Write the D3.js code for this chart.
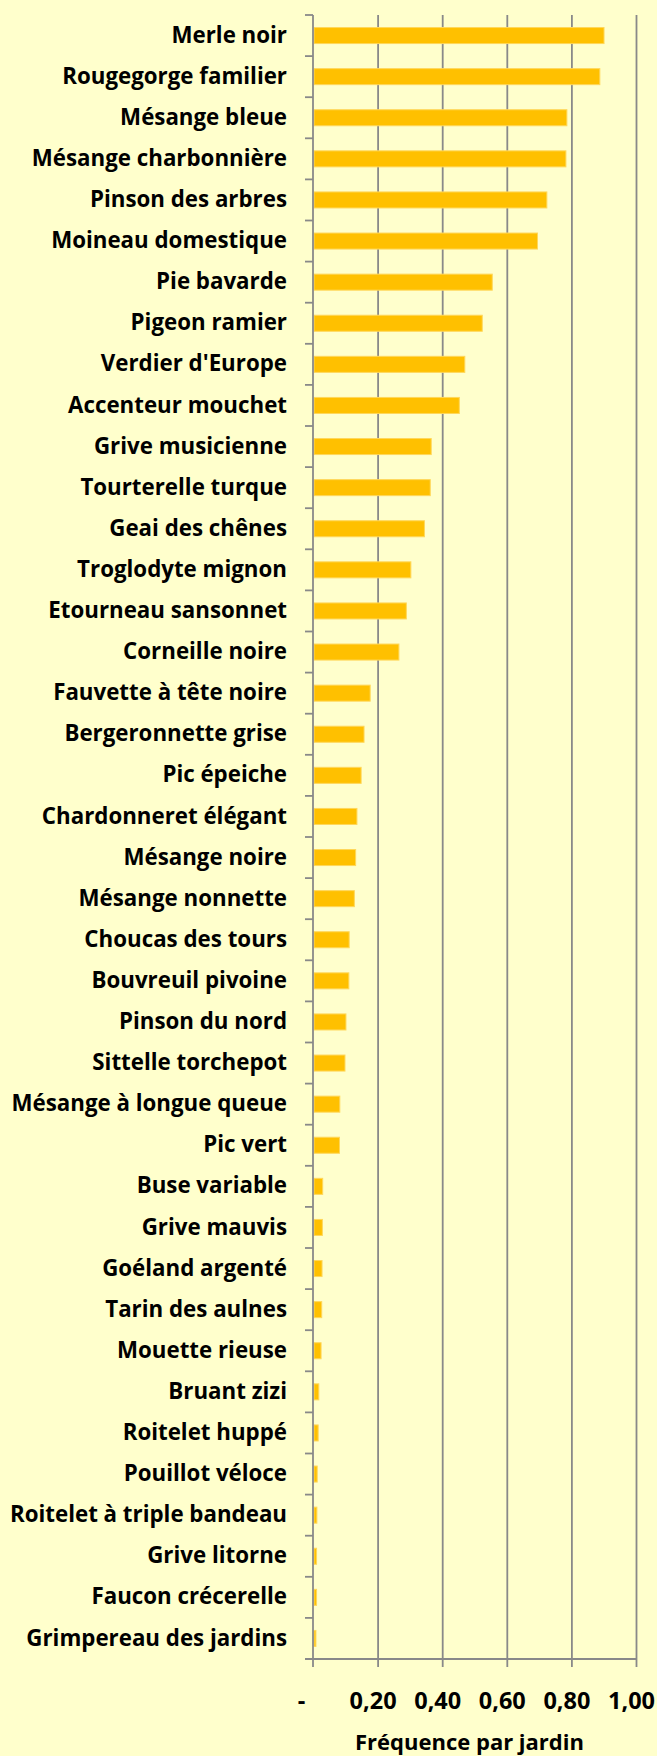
<!DOCTYPE html>
<html>
<head>
<meta charset="utf-8">
<script src="https://cdn.jsdelivr.net/npm/d3@7"></script>
<style>
  body { margin: 0; background: #ffffcc; }
  svg { display: block; }
  text { font-family: "Open Sans", Lato, sans-serif; font-weight: bold; fill: #000; }
</style>
</head>
<body>
<div id="chart"></div>
<script>
// Data
var species = [
  "Merle noir", "Rougegorge familier", "Mésange bleue", "Mésange charbonnière",
  "Pinson des arbres", "Moineau domestique", "Pie bavarde", "Pigeon ramier",
  "Verdier d'Europe", "Accenteur mouchet", "Grive musicienne", "Tourterelle turque",
  "Geai des chênes", "Troglodyte mignon", "Etourneau sansonnet", "Corneille noire",
  "Fauvette à tête noire", "Bergeronnette grise", "Pic épeiche", "Chardonneret élégant",
  "Mésange noire", "Mésange nonnette", "Choucas des tours", "Bouvreuil pivoine",
  "Pinson du nord", "Sittelle torchepot", "Mésange à longue queue", "Pic vert",
  "Buse variable", "Grive mauvis", "Goéland argenté", "Tarin des aulnes",
  "Mouette rieuse", "Bruant zizi", "Roitelet huppé", "Pouillot véloce",
  "Roitelet à triple bandeau", "Grive litorne", "Faucon crécerelle", "Grimpereau des jardins"
];
var frequency = [
  0.901, 0.888, 0.786, 0.783, 0.724, 0.695, 0.555, 0.524,
  0.470, 0.453, 0.366, 0.363, 0.345, 0.303, 0.289, 0.266,
  0.177, 0.158, 0.149, 0.136, 0.132, 0.128, 0.112, 0.111,
  0.102, 0.099, 0.083, 0.082, 0.030, 0.029, 0.028, 0.027,
  0.025, 0.018, 0.016, 0.013, 0.012, 0.011, 0.011, 0.009
];
var xTicks = [0, 0.2, 0.4, 0.6, 0.8, 1.0];
var xTickLabels = ["-", "0,20", "0,40", "0,60", "0,80", "1,00"];
var xTitle = "Fréquence par jardin";

var svgWidth = 657;
var svgHeight = 1756;

var margin = {
  top: 15,
  right: 21,
  bottom: 97,
  left: 313
};

var width = svgWidth - margin.left - margin.right;
var height = svgHeight - margin.top - margin.bottom;

var axisColor = "#898989";

var svg = d3.select("#chart")
  .append("svg")
  .attr("width", svgWidth)
  .attr("height", svgHeight);

svg.append("rect")
  .attr("width", svgWidth)
  .attr("height", svgHeight)
  .attr("fill", "#ffffcc");

var chartGroup = svg.append("g")
  .attr("transform", `translate(${margin.left}, ${margin.top})`);

// Scales
var xLinearScale = d3.scaleLinear()
  .domain([0, 1])
  .range([0, width]);

var yBandScale = d3.scaleBand()
  .domain(species)
  .range([0, height])
  .paddingInner(0.61)
  .paddingOuter(0.305);

// Gridlines (they run past the bottom line as ticks)
var gridAxis = d3.axisBottom(xLinearScale)
  .tickValues(xTicks.slice(1))
  .tickSize(height + 8)
  .tickFormat("");

chartGroup.append("g")
  .call(gridAxis)
  .call(g => g.select(".domain").remove())
  .selectAll("line")
  .attr("stroke", axisColor)
  .attr("stroke-width", 1.8);

// Bars
chartGroup.selectAll(".bar")
  .data(frequency)
  .enter()
  .append("rect")
  .attr("class", "bar")
  .attr("x", xLinearScale(0) + 1)
  .attr("y", (d, i) => yBandScale(species[i]))
  .attr("width", d => xLinearScale(d) - xLinearScale(0) - 1)
  .attr("height", yBandScale.bandwidth())
  .attr("fill", "#ffc000")
  .attr("stroke", "#ffd75a")
  .attr("stroke-width", 1);

// Left axis: ticks sit on category boundaries
var boundaries = d3.range(species.length + 1).map(i => i * yBandScale.step());

chartGroup.append("g")
  .selectAll("line")
  .data(boundaries)
  .enter()
  .append("line")
  .attr("x1", -8)
  .attr("x2", 0)
  .attr("y1", d => d)
  .attr("y2", d => d)
  .attr("stroke", axisColor)
  .attr("stroke-width", 1.8);

chartGroup.append("line")
  .attr("x1", 0)
  .attr("x2", 0)
  .attr("y1", 0)
  .attr("y2", height + 8)
  .attr("stroke", axisColor)
  .attr("stroke-width", 1.8);

chartGroup.append("line")
  .attr("x1", -8)
  .attr("x2", width)
  .attr("y1", height)
  .attr("y2", height)
  .attr("stroke", axisColor)
  .attr("stroke-width", 1.8);

// Category labels
var leftAxis = d3.axisLeft(yBandScale)
  .tickSize(0)
  .tickPadding(26);

chartGroup.append("g")
  .call(leftAxis)
  .call(g => g.select(".domain").remove())
  .selectAll("text")
  .style("font-family", "'Open Sans', Lato, sans-serif")
  .style("font-weight", "bold")
  .style("font-size", "22.3px")
  .attr("fill", "#000");

// Value tick labels
var bottomAxis = d3.axisBottom(xLinearScale)
  .tickValues(xTicks)
  .tickSize(0)
  .tickPadding(33)
  .tickFormat((d, i) => xTickLabels[i]);

chartGroup.append("g")
  .attr("transform", `translate(0, ${height})`)
  .call(bottomAxis)
  .call(g => g.select(".domain").remove())
  .selectAll("text")
  .attr("dx", (d, i) => i === 0 ? -12 : -5)
  .style("font-family", "'Open Sans', Lato, sans-serif")
  .style("font-weight", "bold")
  .style("font-size", "23.5px")
  .attr("fill", "#000");

// Axis title
chartGroup.append("text")
  .attr("x", width / 2 - 5)
  .attr("y", height + 91)
  .attr("text-anchor", "middle")
  .style("font-size", "22px")
  .text(xTitle);
</script>
</body>
</html>
